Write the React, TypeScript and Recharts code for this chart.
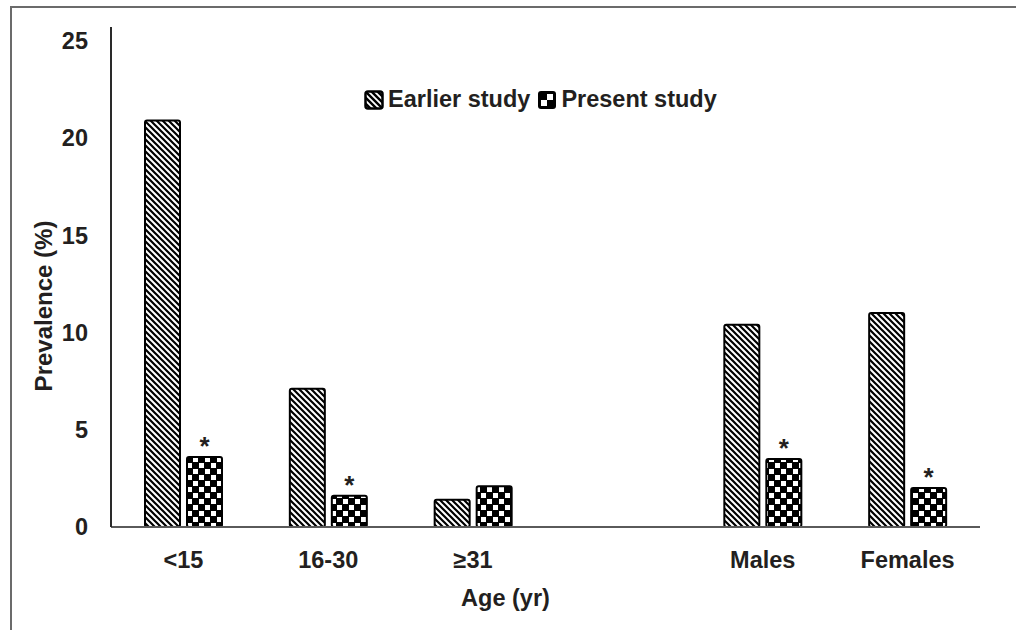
import { BarChart, Bar, XAxis, YAxis, LabelList, Label } from 'recharts';

// valores (prevalencia en %)
const categories = ['<15', '16-30', '≥31', '', 'Males', 'Females'];
const earlierStudy = [20.9, 7.1, 1.4, null, 10.4, 11.0];
const presentStudy = [3.6, 1.6, 2.1, null, 3.5, 2.0];
const significant = [true, true, false, false, true, true];
const yTicks = [0, 5, 10, 15, 20, 25];

const data = categories.map((c, i) => ({
  name: c,
  earlier: earlierStudy[i],
  present: presentStudy[i],
  sig: significant[i] ? '*' : '',
}));

const FONT = '"Liberation Sans", Arial, sans-serif';
const TEXT = '#231F20';
const FS = 23.5;

const Star = (props: any) => {
  const { x, y, width, value } = props;
  if (!value) return null;
  return (
    <text x={x + width / 2} y={y - 2} textAnchor="middle" fontFamily={FONT} fontWeight="bold" fontSize={26} fill={TEXT}>
      {value}
    </text>
  );
};

// leyenda encima del gráfico, como en la figura original
const LegendBox = () => (
  <div style={{ position: 'absolute', left: 364, top: 86, display: 'flex', alignItems: 'center',
    fontFamily: FONT, fontWeight: 'bold', fontSize: FS, color: TEXT }}>
    <svg width={20} height={20} style={{ marginRight: 4 }}>
      <defs>
        <pattern id="legDiag" width="6" height="6" patternUnits="userSpaceOnUse">
          <rect width="6" height="6" fill="#fff" />
          <path d="M0,0 L6,6 M-1,5 L1,7 M5,-1 L7,1" stroke="#000" strokeWidth={2.4} />
        </pattern>
      </defs>
      <rect x={1.5} y={1.5} width={17} height={17} rx={2.5} fill="url(#legDiag)" stroke="#000" strokeWidth={2.5} />
    </svg>
    <span style={{ marginRight: 7 }}>Earlier study</span>
    <svg width={20} height={20} style={{ marginRight: 4 }}>
      <rect x={1} y={1} width={18} height={18} rx={3} fill="#000" />
      <rect x={10} y={4} width={6} height={6} fill="#fff" />
      <rect x={4} y={10} width={6} height={6} fill="#fff" />
    </svg>
    <span>Present study</span>
  </div>
);

const YTitle = () => (
  <text x={43} y={306} transform="rotate(-90, 43, 306)" textAnchor="middle" dominantBaseline="central"
    fontFamily={FONT} fontWeight="bold" fontSize={24} fill={TEXT}>
    Prevalence (%)
  </text>
);

export default function App() {
  return (
    <div style={{ position: 'absolute', left: 0, top: 0, width: 1016, height: 630, background: '#fff', overflow: 'hidden' }}>
      <div style={{ position: 'absolute', left: 10, top: 6, width: 1020, height: 640, border: '2px solid #6b6b6b', boxSizing: 'border-box' }} />
      <BarChart width={1016} height={630} data={data} margin={{ top: 27, right: 36, bottom: 0, left: 0 }}
        barGap={7} barSize={35} style={{ position: 'absolute', left: 0, top: 0 }}>
        <defs>
          <pattern id="diag" width="6" height="6" patternUnits="userSpaceOnUse">
            <rect width="6" height="6" fill="#fff" />
            <path d="M0,0 L6,6 M-1,5 L1,7 M5,-1 L7,1" stroke="#000" strokeWidth={2.2} />
          </pattern>
          <pattern id="checker" width="12" height="12" patternUnits="userSpaceOnUse">
            <rect width="12" height="12" fill="#000" />
            <rect x="1" y="1" width="5" height="5" fill="#fff" />
            <rect x="7" y="7" width="5" height="5" fill="#fff" />
          </pattern>
        </defs>
        <XAxis dataKey="name" axisLine={{ stroke: '#5a5a5a', strokeWidth: 2 }} tickLine={false} height={103}
          tickSize={6} tickMargin={18} interval={0}
          tick={{ fontFamily: FONT, fontWeight: 'bold', fontSize: FS, fill: TEXT }}>
          <Label value="Age (yr)" position="insideBottom" offset={24} dx={-40}
            style={{ fontFamily: FONT, fontWeight: 'bold', fontSize: FS, fill: TEXT }} />
        </XAxis>
        <YAxis width={111} domain={[0, 25.7]} ticks={yTicks} axisLine={{ stroke: '#2a2a2a', strokeWidth: 2 }}
          tickLine={false} tickSize={8} tickMargin={15}
          tick={{ fontFamily: FONT, fontWeight: 'bold', fontSize: FS, fill: TEXT }}
          label={<YTitle />} />
        <Bar dataKey="earlier" fill="url(#diag)" stroke="#000" strokeWidth={2} radius={2} isAnimationActive={false} />
        <Bar dataKey="present" fill="url(#checker)" stroke="#000" strokeWidth={2} radius={2} isAnimationActive={false}>
          <LabelList dataKey="sig" content={<Star />} />
        </Bar>
      </BarChart>
      <LegendBox />
    </div>
  );
}
